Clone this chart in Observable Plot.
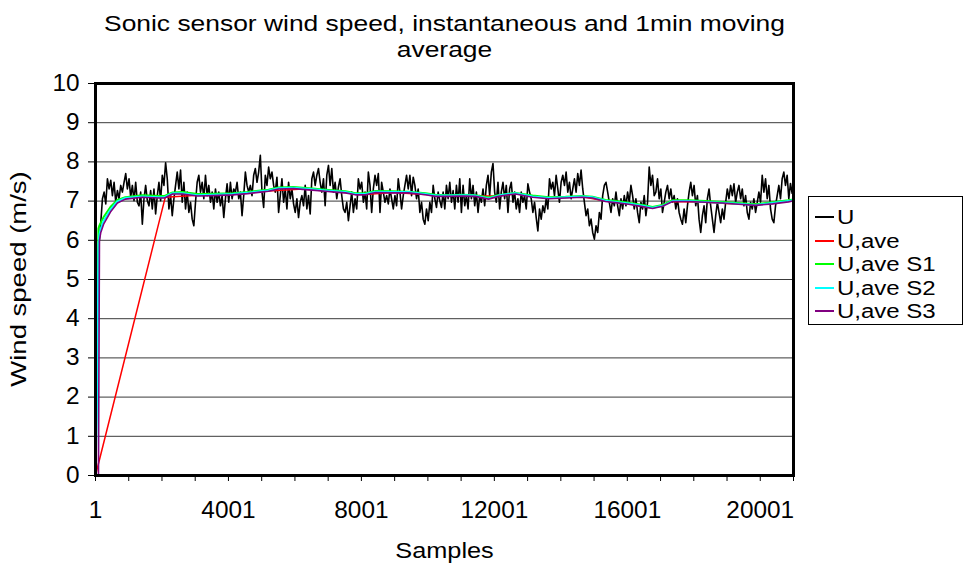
<!DOCTYPE html>
<html><head><meta charset="utf-8">
<script src="https://cdn.jsdelivr.net/npm/d3@7"></script>
<script src="https://cdn.jsdelivr.net/npm/@observablehq/plot@0.6"></script>
<style>
body{margin:0;background:#fff;font-family:"Liberation Sans",Arial,sans-serif;}
#wrap{position:relative;width:966px;height:567px;overflow:hidden;}
#legend{position:absolute;left:808px;top:196px;width:155px;height:129px;border:1px solid #000;box-sizing:border-box;background:#fff;}
.item{position:absolute;left:6px;height:24px;width:150px;}
.sw{position:absolute;left:0;top:11px;width:19px;height:2px;}
.lab{position:absolute;left:22px;top:0;line-height:24px;font-size:20px;color:#000;white-space:nowrap;transform:scaleX(1.2);transform-origin:0 50%;}
</style></head><body><div id="wrap"></div>
<script>
// ---- data ----
const titleText = "Sonic sensor wind speed, instantaneous and 1min moving\naverage";
const xLabel = "Samples";
const yLabel = "Wind speed (m/s)";
const seriesNames = ["U", "U,ave", "U,ave S1", "U,ave S2", "U,ave S3"];
const seriesColors = ["#000000", "#ff0000", "#00ff00", "#00ffff", "#800080"];
const yTicks = [0,1,2,3,4,5,6,7,8,9,10];
const yGrid = [1,2,3,4,5,6,7,8,9];
const xTickLabels = [1, 4001, 8001, 12001, 16001, 20001];
const xTickMarks = [1,1001,2001,3001,4001,5001,6001,7001,8001,9001,10001,11001,12001,13001,14001,15001,16001,17001,18001,19001,20001,21001];

// instantaneous U, one reading every 50 samples starting at sample 110
const uStartSample = 110, uStepSamples = 50;
const uValues = [
5.94,6.45,7.06,7.23,6.93,7.57,7.31,7.53,7.14,7.48,
6.97,7.27,7.06,7.40,7.23,7.48,7.70,7.31,7.57,7.10,
7.40,7.01,7.48,6.97,6.88,7.23,6.41,7.06,7.40,7.01,
6.88,7.27,6.80,7.31,6.67,7.14,7.48,7.01,7.66,7.40,
7.98,7.57,6.80,7.14,6.63,7.06,7.40,7.74,7.31,7.79,
6.97,7.48,6.80,7.23,6.71,6.97,6.54,6.37,6.97,7.48,
7.66,7.23,7.48,7.06,7.66,7.14,7.40,6.97,7.23,6.80,
7.31,6.97,7.23,6.88,7.14,6.58,7.06,7.44,6.97,7.48,
7.06,7.31,7.23,
7.48,7.06,7.23,6.63,7.14,7.74,7.40,7.23,7.40,7.14,
7.66,7.83,7.48,7.74,8.17,7.23,6.84,7.66,7.40,7.87,
7.57,7.74,7.40,7.23,7.61,6.71,7.14,7.57,6.97,7.31,
6.80,7.48,7.06,7.31,6.93,6.71,7.06,6.58,6.97,7.14,
6.88,7.40,6.80,7.14,6.67,7.57,7.74,7.40,7.66,7.83,
7.48,7.23,7.57,6.88,7.66,7.91,7.40,7.83,7.23,7.48,
7.06,7.36,7.57,7.14,6.80,6.71,6.97,6.50,6.88,7.23,
6.71,7.06,6.80,7.57,7.31,7.48,6.97,7.23,6.80,7.74,
7.40,6.71,7.31,7.66,
7.40,7.70,6.71,7.48,7.23,6.97,7.14,6.93,7.31,7.06,
6.80,7.14,6.88,7.57,7.23,6.80,7.14,7.40,7.66,7.31,
7.66,7.14,7.61,7.40,7.06,7.31,6.71,6.97,6.54,6.41,
6.80,6.50,6.97,6.71,7.40,7.06,6.84,7.23,7.01,6.84,
7.23,6.80,7.40,7.06,7.48,6.97,7.27,6.80,7.40,6.97,
7.57,6.71,7.40,6.88,7.14,6.80,7.57,7.06,7.40,6.88,
7.23,6.71,7.14,6.97,7.31,6.88,7.40,7.66,7.14,7.74,
7.96,7.23,6.97,7.48,6.80,7.23,7.48,7.06,7.40,6.71,
7.31,7.48,6.97,7.23,
6.80,7.06,6.71,7.23,6.97,7.14,6.80,7.44,7.23,7.06,
6.71,6.97,6.58,6.24,6.80,6.54,6.88,6.71,7.06,6.80,
7.57,7.31,7.48,7.14,7.66,7.31,6.97,7.48,7.66,7.40,
7.74,7.23,7.48,7.06,7.31,7.57,7.23,7.70,7.40,7.79,
7.31,6.97,6.63,6.80,6.37,6.54,6.20,6.03,6.37,6.20,
6.71,6.54,7.14,7.40,7.48,7.23,6.97,6.71,7.06,6.88,
7.23,6.88,6.63,7.06,6.80,7.14,6.88,7.23,6.97,7.40,
7.14,6.80,7.06,6.71,6.45,6.97,6.80,7.14,6.63,6.97,
7.87,7.40,7.66,7.14,
7.23,7.57,7.06,7.31,6.71,6.97,7.23,7.40,7.06,7.31,
6.97,7.14,6.80,7.06,6.71,6.54,6.41,6.80,6.45,6.88,
7.23,7.48,7.14,7.40,6.88,7.14,6.54,6.20,6.63,6.88,
6.45,7.06,7.31,6.88,6.54,6.20,6.63,6.97,6.71,6.45,
6.80,6.54,6.97,7.31,7.06,7.40,7.14,7.44,6.97,7.23,
7.40,7.06,7.31,6.88,7.14,6.71,6.54,6.97,6.80,7.06,
6.71,6.97,7.23,6.97,7.66,7.23,7.57,7.06,7.40,6.80,
6.54,6.45,6.88,7.14,7.40,7.06,7.57,7.74,7.40,7.66,
7.06,7.45,7.20
];

// moving averages S1..S3 sampled at these sample numbers
const avgSamples = [1,40,90,120,160,250,450,660,900,1410,1920,2080,2320,2620,3070,3550,4120,4575,4965,5205,5505,5960,6230,6530,6920,7220,7520,7820,8120,8425,8935,9420,9930,10230,10620,11045,11435,11825,12125,12425,12640,13150,13630,14140,14650,14955,15345,15645,16040,16460,16760,17060,17360,17845,18355,18865,19350,19860,20370,20850,21000];
const s1Values = [0,3.5,6.3,6.38,6.45,6.6,6.85,7.03,7.1,7.15,7.13,7.13,7.22,7.23,7.18,7.19,7.2,7.23,7.27,7.29,7.35,7.36,7.34,7.32,7.29,7.27,7.25,7.2,7.2,7.26,7.25,7.24,7.2,7.16,7.15,7.16,7.15,7.09,7.15,7.19,7.21,7.14,7.1,7.11,7.13,7.11,7.03,7.0,6.96,6.9,6.85,6.9,7.02,7.02,7.0,6.98,6.95,6.92,6.97,7.02,7.04];
const s2Values = [0,1.5,5.9,6.15,6.3,6.5,6.78,6.99,7.08,7.12,7.1,7.1,7.2,7.2,7.15,7.16,7.18,7.21,7.25,7.27,7.33,7.34,7.32,7.3,7.27,7.25,7.23,7.18,7.18,7.24,7.23,7.23,7.18,7.14,7.14,7.15,7.14,7.07,7.14,7.18,7.2,7.12,7.08,7.1,7.12,7.1,7.01,6.98,6.94,6.88,6.83,6.88,7.0,7.0,6.98,6.96,6.93,6.9,6.95,7.0,7.03];
const s3Values = [0,0,0,6.0,6.2,6.42,6.72,6.95,7.05,7.1,7.08,7.08,7.18,7.18,7.13,7.14,7.16,7.19,7.23,7.25,7.31,7.32,7.3,7.28,7.25,7.23,7.21,7.16,7.16,7.22,7.21,7.21,7.16,7.12,7.12,7.13,7.12,7.05,7.12,7.16,7.18,7.1,7.06,7.08,7.1,7.08,6.99,6.96,6.92,6.86,6.81,6.87,6.99,6.99,6.97,6.95,6.92,6.89,6.93,6.98,7.01];

// U,ave (1 min moving average, first value after one minute of samples)
const uAveSamples = [1,2101,3070,4120,5205,6230,7220,8120,8935,9930,10620,11435,12125,12640,13630,14650,15345,16040,16760,17360,18355,19350,20370,21000];
const uAveValues = [0,7.1,7.15,7.17,7.26,7.31,7.24,7.17,7.22,7.17,7.13,7.13,7.13,7.19,7.07,7.11,7.0,6.93,6.82,6.99,6.97,6.92,6.94,7.02];

// ---- build ----
const uData = uValues.map((v, i) => ({s: uStartSample + i * uStepSamples, v}));
const toPts = (xs, ys) => xs.map((s, i) => ({s, v: ys[i]}));
const redData = toPts(uAveSamples, uAveValues);
const s1Data = toPts(avgSamples, s1Values);
const s2Data = toPts(avgSamples, s2Values);
const s3Data = toPts(avgSamples, s3Values);

const FONT = '"Liberation Sans", Arial, sans-serif';
const MT = 83, MB = 92;
const chart = Plot.plot({
  width: 966, height: 567,
  marginLeft: 95, marginRight: 173, marginTop: MT, marginBottom: MB,
  style: {fontFamily: FONT, background: "transparent", color: "#000", overflow: "visible"},
  x: {domain: [1, 21001]},
  y: {domain: [0, 10]},
  marks: [
    Plot.ruleY(yGrid, {stroke: "#3a3a3a", strokeWidth: 1}),
    Plot.line(uData, {x: "s", y: "v", stroke: seriesColors[0], strokeWidth: 1.6}),
    Plot.line(redData, {x: "s", y: "v", stroke: seriesColors[1], strokeWidth: 1.5}),
    Plot.line(s1Data, {x: "s", y: "v", stroke: seriesColors[2], strokeWidth: 2}),
    Plot.line(s2Data, {x: "s", y: "v", stroke: seriesColors[3], strokeWidth: 2}),
    Plot.line(s3Data, {x: "s", y: "v", stroke: seriesColors[4], strokeWidth: 1.6}),
    Plot.frame({stroke: "#000", strokeWidth: 3}),
    Plot.axisY(yTicks, {tickSize: 7, tickPadding: 9, fontSize: 23, label: null, tickFormat: d => String(d), stroke: "#000"}),
    Plot.axisX(xTickMarks, {tickSize: 6, tickFormat: () => "", label: null, stroke: "#000"}),
    Plot.axisX(xTickLabels, {tickSize: 0, tickPadding: 26, fontSize: 23, label: null, tickFormat: d => String(d)}),
    Plot.text([titleText], {frameAnchor: "top", lineAnchor: "middle", dy: -48, fontSize: 22, lineHeight: 1.18, fill: "#000"}),
    Plot.text([xLabel], {frameAnchor: "bottom", lineAnchor: "middle", dy: 75, fontSize: 22, fill: "#000"}),
    Plot.text([yLabel], {frameAnchor: "left", lineAnchor: "middle", dx: -77, rotate: -90, fontSize: 22, fill: "#000"})
  ]
});
const wrap = document.getElementById("wrap");
wrap.appendChild(chart);

// widen glyphs along the text direction (the reference's Arial renders wide)
function stretch(el, sx) {
  const L = el.getComputedTextLength();
  if (!(L > 0)) return;
  el.setAttribute("textLength", (L * sx).toFixed(2));
  el.setAttribute("lengthAdjust", "spacingAndGlyphs");
}
let yTitleEl = null;
chart.querySelectorAll("text").forEach(t => {
  const s = t.textContent.trim();
  if (!s) return;
  if (s === yLabel) { yTitleEl = t; return; }
  const spans = t.querySelectorAll("tspan");
  const sx = /^\d+$/.test(s) ? 1.06 : (s === xLabel ? 1.15 : 1.2);
  if (spans.length) spans.forEach(sp => stretch(sp, sx));
  else stretch(t, sx);
});
// rotated y title: stretch, then re-centre it on the frame
if (yTitleEl) {
  stretch(yTitleEl, 1.25);
  const top0 = chart.getBoundingClientRect().top;
  const want = MT + (567 - MT - MB) / 2;
  const centre = () => { const r = yTitleEl.getBoundingClientRect(); return r.top + r.height / 2 - top0; };
  const x0 = +(yTitleEl.getAttribute("x") || 0);
  const c0 = centre();
  const d = c0 - want;
  yTitleEl.setAttribute("x", x0 + d);
  if (Math.abs(centre() - want) > Math.abs(d)) yTitleEl.setAttribute("x", x0 - d);
}

// legend
const legend = document.createElement("div");
legend.id = "legend";
seriesNames.forEach((name, i) => {
  const it = document.createElement("div");
  it.className = "item";
  it.style.top = (8 + i * 23.5) + "px";
  const sw = document.createElement("div");
  sw.className = "sw";
  sw.style.background = seriesColors[i];
  const lab = document.createElement("span");
  lab.className = "lab";
  lab.textContent = name;
  it.appendChild(sw);
  it.appendChild(lab);
  legend.appendChild(it);
});
wrap.appendChild(legend);
</script>
</body></html>
